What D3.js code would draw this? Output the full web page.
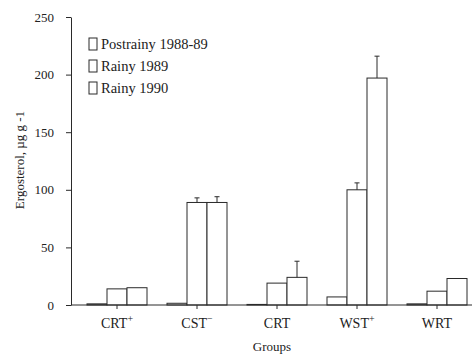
<!DOCTYPE html>
<html>
<head>
<meta charset="utf-8">
<script src="https://cdn.jsdelivr.net/npm/d3@7"></script>
<style>
  html, body { margin: 0; padding: 0; background: #fff; }
  svg { display: block; }
  text { font-family: "Liberation Serif", "DejaVu Serif", serif; fill: #222; }
</style>
</head>
<body>
<svg id="chart" width="475" height="354"></svg>
<script>
// ---- data ----
const categories = ["CRT", "CST", "CRT", "WST", "WRT"];
const superscripts = ["+", "\u2212", "", "+", ""];
const seriesNames = ["Postrainy 1988-89", "Rainy 1989", "Rainy 1990"];
const postrainy = [1, 1.5, 0.5, 7, 1];
const rainy1989 = [14, 89, 19, 100, 12];
const rainy1990 = [15, 89, 24, 197, 23];
const postrainyErr = [0, 0, 0, 0, 0];
const rainy1989Err = [0, 4, 0, 6, 0];
const rainy1990Err = [0, 5, 14, 19, 0];
const yTicks = [0, 50, 100, 150, 200, 250];

const seriesValues = [postrainy, rainy1989, rainy1990];
const seriesErrs = [postrainyErr, rainy1989Err, rainy1990Err];

const svg = d3.select("#chart");
const stroke = "#2a2a2a";

const x = d3.scaleBand().domain(d3.range(categories.length)).range([77, 477]);
const xs = d3.scaleBand().domain(d3.range(seriesNames.length)).range([-30, 30]);
const y = d3.scaleLinear().domain([0, 250]).range([305, 17]);

// bars
const rows = [];
categories.forEach((c, i) => {
  seriesValues.forEach((vals, s) => {
    rows.push({ i, s, v: vals[i], e: seriesErrs[s][i] });
  });
});
const cx = d => x(d.i) + x.bandwidth() / 2;

svg.append("g").selectAll("rect").data(rows).join("rect")
  .attr("x", d => cx(d) + xs(d.s))
  .attr("y", d => y(d.v))
  .attr("width", xs.bandwidth())
  .attr("height", d => y(0) - y(d.v))
  .attr("fill", "#fff")
  .attr("stroke", stroke)
  .attr("stroke-width", 1);

// error bars
const eg = svg.append("g").selectAll("g").data(rows.filter(d => d.e > 0)).join("g");
eg.append("line")
  .attr("x1", d => cx(d) + xs(d.s) + xs.bandwidth() / 2)
  .attr("x2", d => cx(d) + xs(d.s) + xs.bandwidth() / 2)
  .attr("y1", d => y(d.v))
  .attr("y2", d => y(d.v + d.e))
  .attr("stroke", stroke);
eg.append("line")
  .attr("x1", d => cx(d) + xs(d.s) + xs.bandwidth() / 2 - 2.5)
  .attr("x2", d => cx(d) + xs(d.s) + xs.bandwidth() / 2 + 2.5)
  .attr("y1", d => y(d.v + d.e))
  .attr("y2", d => y(d.v + d.e))
  .attr("stroke", stroke);

// y axis
const yAxis = svg.append("g").attr("transform", "translate(71,0)")
  .call(d3.axisLeft(y).tickValues(yTicks).tickSize(5).tickSizeOuter(0).tickPadding(12));
yAxis.select(".domain").attr("stroke", stroke);
yAxis.selectAll(".tick line").attr("stroke", stroke);
yAxis.selectAll(".tick text").style("font-size", "13px")
  .style("font-family", "'Liberation Serif', serif").attr("fill", "#222");

// x axis
svg.append("line").attr("x1", 71).attr("x2", 472).attr("y1", y(0)).attr("y2", y(0))
  .attr("stroke", stroke);
const xAxis = svg.append("g").attr("transform", `translate(0,${y(0)})`)
  .call(d3.axisBottom(x).tickSize(4).tickSizeOuter(0).tickFormat(() => ""));
xAxis.select(".domain").remove();
xAxis.selectAll(".tick line").attr("stroke", stroke);

const xl = svg.append("g").selectAll("text").data(categories).join("text")
  .attr("x", (d, i) => x(i) + x.bandwidth() / 2)
  .attr("y", 328)
  .attr("text-anchor", "middle")
  .style("font-size", "14px");
xl.append("tspan").text(d => d);
xl.append("tspan").attr("dy", -6).style("font-size", "10px")
  .text((d, i) => superscripts[i]);

// axis titles
svg.append("text").attr("x", 272).attr("y", 351).attr("text-anchor", "middle")
  .style("font-size", "13px").text("Groups");
svg.append("text").attr("transform", "translate(24,160) rotate(-90)")
  .attr("text-anchor", "middle").style("font-size", "13px")
  .text("Ergosterol, \u00b5g g -1");

// legend
const lg = svg.append("g").selectAll("g").data(seriesNames).join("g")
  .attr("transform", (d, i) => `translate(89,${44 + i * 22})`);
lg.append("rect").attr("x", 0).attr("y", -6).attr("width", 8).attr("height", 12)
  .attr("fill", "#fff").attr("stroke", stroke);
lg.append("text").attr("x", 12).attr("y", 5).style("font-size", "14.5px").text(d => d);
</script>
</body>
</html>
